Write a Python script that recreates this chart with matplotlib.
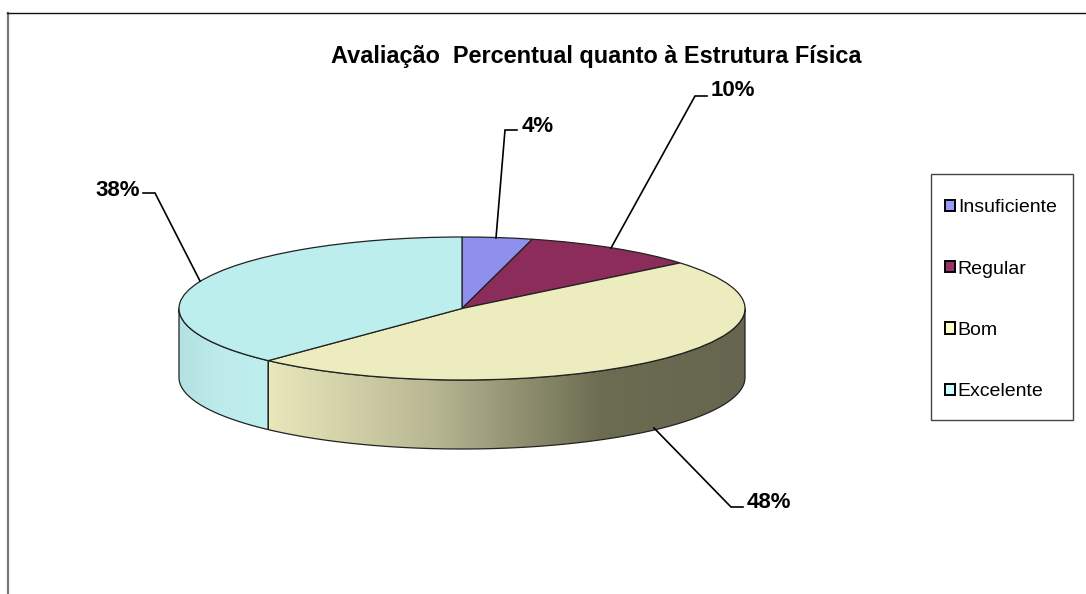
import numpy as np
import matplotlib
matplotlib.use("Agg")
import matplotlib.pyplot as plt
from matplotlib.colors import LinearSegmentedColormap
from matplotlib.patches import Patch, Polygon, Rectangle

categories = ["Insuficiente", "Regular", "Bom", "Excelente"]
values = [4, 10, 48, 38]
pct_labels = ["4%", "10%", "48%", "38%"]
top_colors = ["#8F8FEC", "#8B2C5A", "#ECECBE", "#BDEEEE"]
legend_colors = ["#9999FF", "#993366", "#FFFFCC", "#CCFFFF"]
title = "Avaliação  Percentual quanto à Estrutura Física"

W, H = 1086, 594
CX, CY, RX, RY = 462, 308.5, 283, 71.5
DEPTH = 69 / RY

plt.rcParams['font.family'] = ['Liberation Sans', 'DejaVu Sans']
fig = plt.figure(figsize=(W / 100, H / 100), dpi=100)

# pie lives in unit circle coords, stretched by the axes limits
ax = fig.add_axes([0, 0, 1, 1])
ax.pie(values, colors=top_colors, startangle=90, counterclock=False,
       wedgeprops=dict(edgecolor="#222222", linewidth=0.9, zorder=5))
xlim = ((0 - CX) / RX, (W - CX) / RX)
ylim = ((CY - H) / RY, CY / RY)


def wall(t0, t1, stops):
    t0, t1 = max(t0, np.pi / 2), min(t1, 3 * np.pi / 2)
    if t1 <= t0:
        return
    t = np.linspace(t0, t1, 150)
    x, y = np.sin(t), np.cos(t)
    pts = np.column_stack([np.r_[x, x[::-1]], np.r_[y, y[::-1] - DEPTH]])
    cmap = LinearSegmentedColormap.from_list("w", stops)
    g = np.linspace(x.min(), x.max(), 256).reshape(1, -1)
    im = ax.imshow(g, cmap=cmap, aspect="auto", zorder=2,
                   extent=(x.min(), x.max(), -1 - DEPTH, 1))
    edge = Polygon(pts, closed=True, facecolor="none", edgecolor="#222222",
                   linewidth=0.9, zorder=3)
    ax.add_patch(edge)
    im.set_clip_path(edge)


ends = np.cumsum(values) / np.sum(values) * 2 * np.pi
wall(ends[1], ends[2], [(0, "#E9E8BB"), (0.35, "#B7B692"), (0.7, "#6C6C52"), (1, "#666650")])
wall(ends[2], ends[3], [(0, "#B4E2E2"), (0.45, "#BDEBEB"), (1, "#BEEEEE")])
ax.set_aspect("auto")
ax.set_xlim(xlim)
ax.set_ylim(ylim)
ax.set_axis_off()

# overlay in picture pixels for frame, texts and leaders
ov = fig.add_axes([0, 0, 1, 1], facecolor="none")
ov.set_xlim(0, W)
ov.set_ylim(H, 0)
ov.set_axis_off()

ov.plot([7.5, 7.5], [H, 12.5], color="#777777", lw=1.6)
ov.plot([7, W], [12.5, 12.5], color="#111111", lw=1.0)
ov.text(596, 56, title, ha="center", va="center", fontsize=16.9, fontweight="bold")

leaders = [[(496, 238), (505, 130), (517, 130)],
           [(611, 248), (695, 96), (707, 96)],
           [(654, 428), (731, 507), (743, 507)],
           [(200, 281), (155, 193), (143, 193)]]
label_xy = [(522, 126), (711, 90), (747, 503), (95, 190)]
for pts, xy, lab in zip(leaders, label_xy, pct_labels):
    ov.plot(*zip(*pts), color="black", lw=1.2, solid_joinstyle="miter")
    ov.text(xy[0], xy[1], lab, ha="left", va="center", fontsize=16, fontweight="bold")

ov.add_patch(Rectangle((930.5, 173.5), 142, 246, facecolor="white", edgecolor="#444444", lw=1.0))
handles = [Patch(facecolor=c, edgecolor="black", linewidth=1.4) for c in legend_colors]
ov.legend(handles, categories, frameon=False, fontsize=14, loc="upper left",
          bbox_to_anchor=(935.5 / W, 1 - 189.5 / H), bbox_transform=fig.transFigure,
          handlelength=0.5, handleheight=0.5, handletextpad=0.15,
          labelspacing=2.28, borderpad=0.5, borderaxespad=0)

fig.savefig("out.png", dpi=100, facecolor="white")
